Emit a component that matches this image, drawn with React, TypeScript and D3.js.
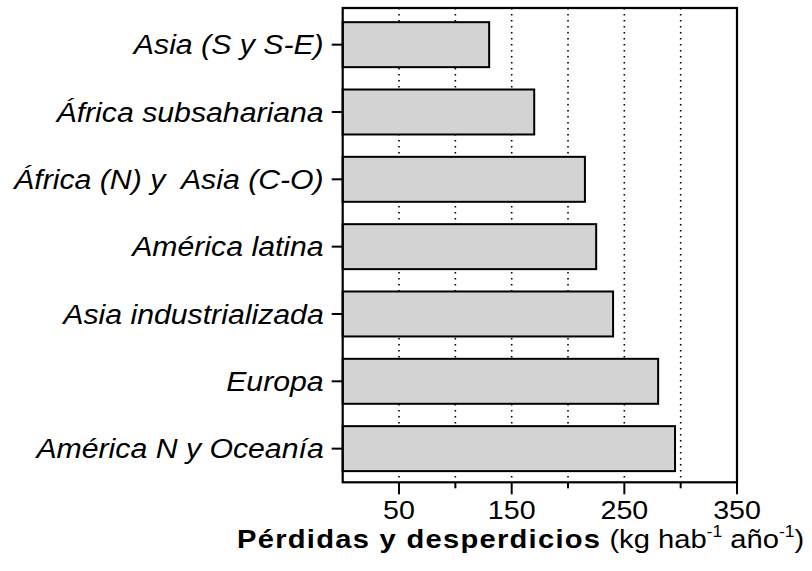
import React from "react";
import * as d3 from "d3";

const categories = [
  "Asia (S y S-E)",
  "África subsahariana",
  "África (N) y  Asia (C-O)",
  "América latina",
  "Asia industrializada",
  "Europa",
  "América N y Oceanía",
];
const values = [130, 170, 215, 225, 240, 280, 295];
const majorTicks = [50, 150, 250, 350];
const minorTicks = [100, 200, 300];
const gridValues = [50, 100, 150, 200, 250, 300];

const W = 812;
const H = 571;
const left = 342.7;
const right = 737;
const top = 8;
const bottom = 482.3;
const FONT = "'Liberation Sans', Arial, sans-serif";
const SX = 1.1;

export default function App() {
  const x = d3.scaleLinear().domain([0, 350]).range([left, right]);
  const y = d3
    .scaleBand<string>()
    .domain(categories)
    .range([11, bottom])
    .paddingInner(0.332)
    .paddingOuter(0.166);

  return (
    <svg
      width={W}
      height={H}
      style={{ position: "absolute", left: 0, top: 0, background: "#fff" }}
    >
      <rect x={0} y={0} width={W} height={H} fill="#fff" />
      {gridValues.map((g) => (
        <line
          key={"g" + g}
          x1={x(g)}
          x2={x(g)}
          y1={top}
          y2={bottom}
          stroke="#000"
          strokeWidth={1.6}
          strokeDasharray="1.6,4.4"
        />
      ))}
      {categories.map((c, i) => (
        <rect
          key={"b" + c}
          x={x(0)}
          y={y(c)!}
          width={x(values[i]) - x(0)}
          height={y.bandwidth()}
          fill="#d3d3d3"
          stroke="#000"
          strokeWidth={2}
        />
      ))}
      <rect
        x={left}
        y={top}
        width={right - left}
        height={bottom - top}
        fill="none"
        stroke="#000"
        strokeWidth={2.2}
      />
      {categories.map((c) => {
        const cy = y(c)! + y.bandwidth() / 2;
        return (
          <g key={"t" + c}>
            <line x1={left - 11} x2={left} y1={cy} y2={cy} stroke="#000" strokeWidth={2} />
            <text
              transform={`translate(${left - 19},${cy + 9.8}) scale(${SX},1)`}
              textAnchor="end"
              fontFamily={FONT}
              fontStyle="italic"
              fontSize={27.5}
              style={{ whiteSpace: "pre" }}
            >
              {c}
            </text>
          </g>
        );
      })}
      {majorTicks.map((t) => (
        <g key={"M" + t}>
          <line x1={x(t)} x2={x(t)} y1={bottom} y2={bottom + 12} stroke="#000" strokeWidth={2} />
          <text
            transform={`translate(${x(t)},${bottom + 37}) scale(${SX},1)`}
            textAnchor="middle"
            fontFamily={FONT}
            fontSize={26}
          >
            {t}
          </text>
        </g>
      ))}
      {minorTicks.map((t) => (
        <line
          key={"m" + t}
          x1={x(t)}
          x2={x(t)}
          y1={bottom}
          y2={bottom + 6}
          stroke="#000"
          strokeWidth={2}
        />
      ))}
      <text
        transform={`translate(237,${bottom + 66}) scale(${SX},1)`}
        textAnchor="start"
        fontFamily={FONT}
        fontSize={26.5}
      >
        <tspan fontWeight="bold" letterSpacing={1.15}>Pérdidas y desperdicios</tspan>
        <tspan> (kg hab</tspan>
        <tspan fontSize={16} dy={-11}>-1</tspan>
        <tspan dy={11}> año</tspan>
        <tspan fontSize={16} dy={-11}>-1</tspan>
        <tspan dy={11}>)</tspan>
      </text>
    </svg>
  );
}
